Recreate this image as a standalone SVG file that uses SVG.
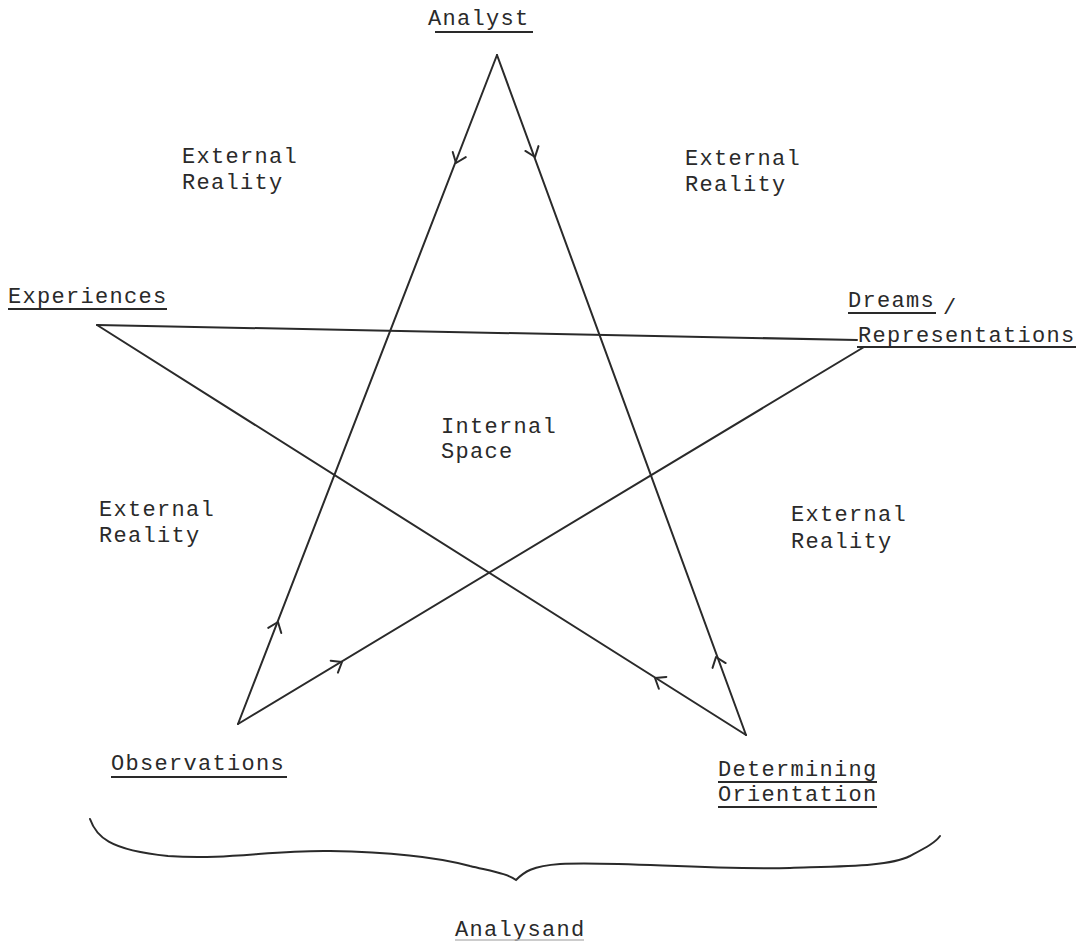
<svg xmlns="http://www.w3.org/2000/svg" width="1086" height="942" viewBox="0 0 1086 942">
<style>
.t{font-family:"Liberation Mono","DejaVu Sans Mono",monospace;font-size:22px;fill:#2a2a2a;letter-spacing:1.3px}
.u{stroke:#2a2a2a;stroke-width:2;fill:none}
.l{stroke:#2a2a2a;stroke-width:2;fill:none;stroke-linecap:round}
</style>
<defs>
<path id="chev" d="M-9,-7 L0,0 L-9,7" fill="none" stroke="#2a2a2a" stroke-width="2" stroke-linecap="round" stroke-linejoin="round"/>
</defs>
<rect width="1086" height="942" fill="#fff"/>
<g id="connectors">
<line class="l" x1="497" y1="55" x2="238" y2="724"/>
<line class="l" x1="497" y1="55" x2="746" y2="735"/>
<line class="l" x1="97" y1="325" x2="857" y2="340"/>
<line class="l" x1="97" y1="325" x2="746" y2="735"/>
<line class="l" x1="238" y1="724" x2="864" y2="347"/>
<use href="#chev" transform="translate(456,163) rotate(111.2)"/>
<use href="#chev" transform="translate(535,157) rotate(69.9)"/>
<use href="#chev" transform="translate(278,622) rotate(-68.8)"/>
<use href="#chev" transform="translate(342,662) rotate(-31.1)"/>
<use href="#chev" transform="translate(716,657) rotate(-110.1)"/>
<use href="#chev" transform="translate(655,678) rotate(-147.7)"/>
</g>
<g id="analyst">
<text class="t" x="428" y="25">Analyst</text>
<line class="u" x1="435" y1="32" x2="533" y2="32"/>
</g>
<g id="external-tl"><text class="t" x="182" y="163">External</text><text class="t" x="182" y="189">Reality</text></g>
<g id="external-tr"><text class="t" x="685" y="165">External</text><text class="t" x="685" y="191">Reality</text></g>
<g id="experiences">
<text class="t" x="8" y="303">Experiences</text>
<line class="u" x1="8" y1="309" x2="167" y2="309"/>
</g>
<g id="dreams">
<text class="t" x="848" y="307">Dreams</text>
<text class="t" x="943" y="314">/</text>
<line class="u" x1="848" y1="313" x2="936" y2="313"/>
<text class="t" x="858" y="342">Representations</text>
<line class="u" x1="857" y1="347" x2="1076" y2="347"/>
</g>
<g id="internal"><text class="t" x="441" y="433">Internal</text><text class="t" x="441" y="458">Space</text></g>
<g id="external-bl"><text class="t" x="99" y="516">External</text><text class="t" x="99" y="542">Reality</text></g>
<g id="external-br"><text class="t" x="791" y="521">External</text><text class="t" x="791" y="548">Reality</text></g>
<g id="observations">
<text class="t" x="111" y="770">Observations</text>
<line class="u" x1="111" y1="777" x2="287" y2="777"/>
</g>
<g id="determining">
<text class="t" x="718" y="776">Determining</text>
<line class="u" x1="718" y1="782" x2="877" y2="782"/>
<text class="t" x="718" y="801">Orientation</text>
<line class="u" x1="718" y1="807" x2="877" y2="807"/>
</g>
<g id="analysand">
<path class="l" d="M90,819 C96,836 108,850 168,856 C230,860 270,850 330,851 C400,852 440,858 470,866 C495,872 508,874 516,880 C524,872 532,866 560,864 C620,861 700,870 790,868 C850,866 890,866 910,856 C925,848 935,843 940,836"/>
<text class="t" x="455" y="936">Analysand</text>
<line x1="455" y1="940" x2="584" y2="940" stroke="#bbb" stroke-width="1.5"/>
</g>
</svg>
